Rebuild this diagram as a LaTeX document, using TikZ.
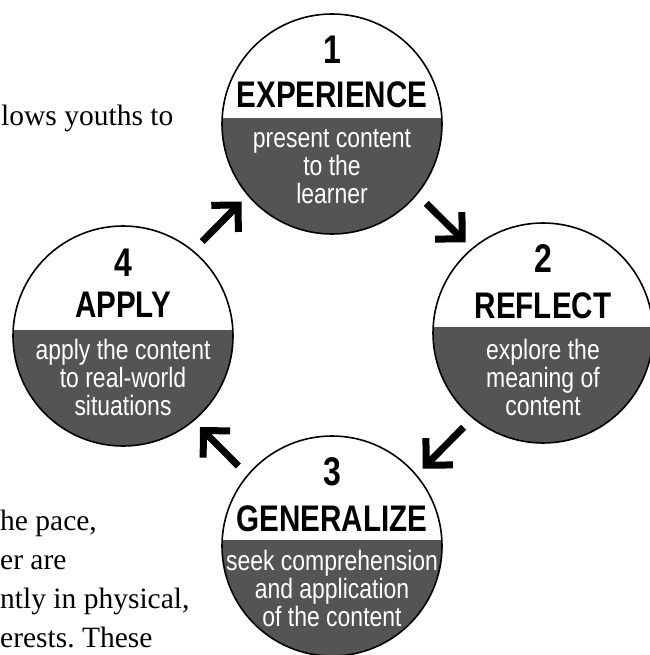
\documentclass[tikz,border=0pt]{standalone}
\usepackage{fontspec}
\setmainfont{Liberation Serif}
\newfontfamily\headfont[FakeStretch=0.8]{Liberation Sans}
\newfontfamily\notefont[FakeStretch=0.82]{Liberation Sans}
\usepackage{tikz}
\usetikzlibrary{arrows.meta}
\definecolor{phasegray}{gray}{0.33}
\tikzstyle{phase} = [circle, draw=black, line width=1.6pt, minimum size=220pt, inner sep=0pt, fill=white, path picture={\fill[phasegray] ([yshift=6pt]path picture bounding box.west) rectangle (path picture bounding box.south east);}]
\tikzstyle{phasenum} = [font=\headfont\bfseries\fontsize{40}{40}\selectfont, inner sep=0pt]
\tikzstyle{phasetitle} = [font=\headfont\bfseries\fontsize{37}{37}\selectfont, inner sep=0pt]
\tikzstyle{phasetext} = [font=\notefont\fontsize{28}{28}\selectfont, text=white, align=center, inner sep=0pt]
\tikzstyle{bodytext} = [font=\fontsize{29.5}{39}\selectfont, anchor=base west, inner sep=0pt]
\tikzstyle{bigarrow} = [line width=7pt, -{Straight Barb[length=19pt,width=38pt]}, shorten <=12pt, shorten >=8pt]

\begin{document}
\begin{tikzpicture}[x=1pt, y=-1pt]
            \useasboundingbox (0,0) rectangle (649,655);

            % running text round the figure
            \node (introline) [bodytext] at (1,126) {lows youths to};
            \node (paceline) [bodytext] at (0,530) {he pace,};
            \node (areline) [bodytext] at (0,569) {er are};
            \node (physline) [bodytext] at (0,608) {ntly in physical,};
            \node (theseline) [bodytext] at (0,647) {erests.\ These};

            \node (experience) [phase] at (332,124) {};
            \node (reflect) [phase] at (543,333) {};
            \node (generalize) [phase] at (332,546) {};
            \node (apply) [phase] at (123,336) {};

            \node (experience-num) [phasenum] at ([yshift=74pt]experience.center) {1};
            \node (experience-title) [phasetitle] at ([yshift=29pt]experience.center) {EXPERIENCE};
            \node (experience-text) [phasetext] at ([yshift=-43pt]experience.center) {present content\\to the\\learner};

            \node (reflect-num) [phasenum] at ([yshift=74pt]reflect.center) {2};
            \node (reflect-title) [phasetitle] at ([yshift=27pt]reflect.center) {REFLECT};
            \node (reflect-text) [phasetext] at ([yshift=-44pt]reflect.center) {explore the\\meaning of\\content};

            \node (generalize-num) [phasenum] at ([yshift=74pt]generalize.center) {3};
            \node (generalize-title) [phasetitle] at ([yshift=27pt]generalize.center) {GENERALIZE};
            \node (generalize-text) [phasetext] at ([yshift=-42pt]generalize.center) {seek comprehension\\and application\\of the content};

            \node (apply-num) [phasenum] at ([yshift=73pt]apply.center) {4};
            \node (apply-title) [phasetitle] at ([yshift=31pt]apply.center) {APPLY};
            \node (apply-text) [phasetext] at ([yshift=-41pt]apply.center) {apply the content\\to real-world\\situations};

            \draw [bigarrow, transform canvas={shift={(7,-7)}}] (experience) -- (reflect);
            \draw [bigarrow, transform canvas={shift={(7,7)}}] (reflect) -- (generalize);
            \draw [bigarrow, transform canvas={shift={(-7,7)}}] (generalize) -- (apply);
            \draw [bigarrow, transform canvas={shift={(-7,-7)}}] (apply) -- (experience);
        \end{tikzpicture}
\end{document}
